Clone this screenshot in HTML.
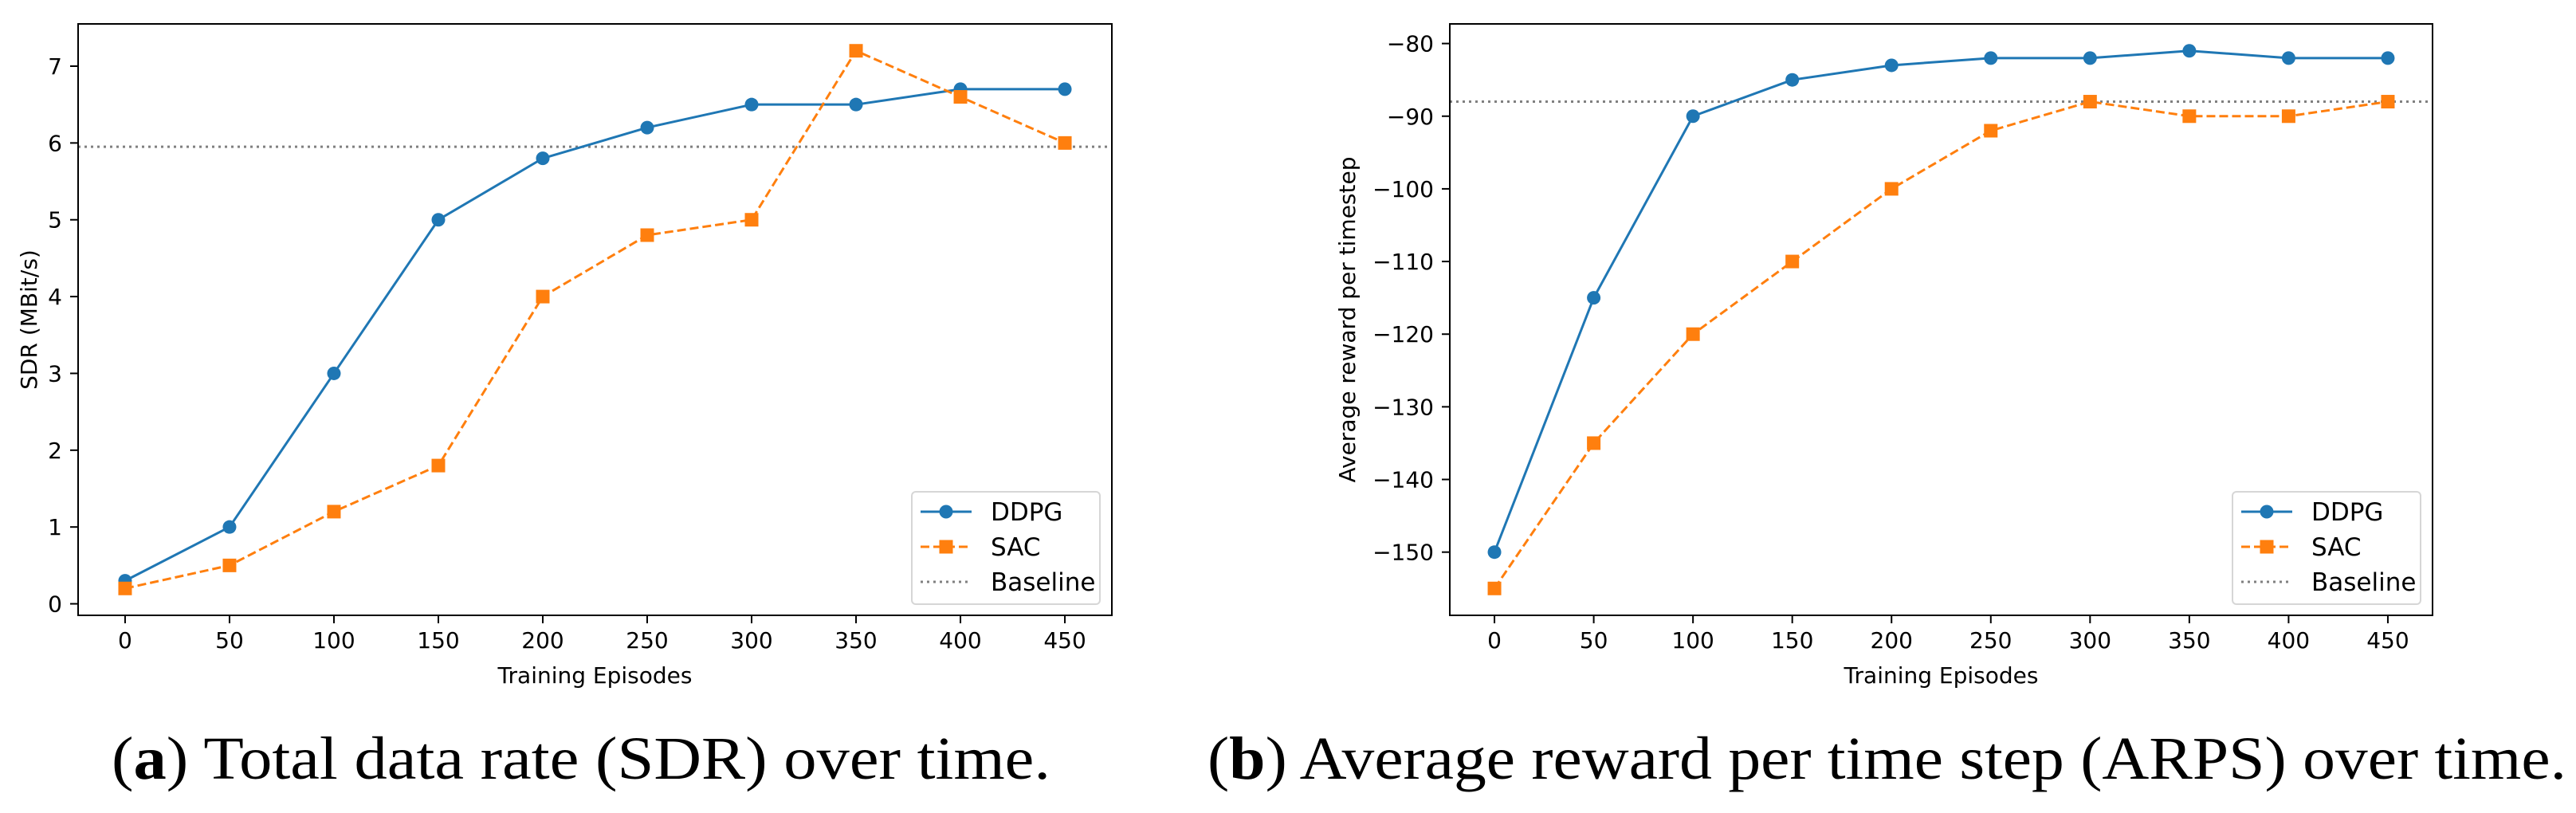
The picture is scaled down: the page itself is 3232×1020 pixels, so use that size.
<!DOCTYPE html>
<html><head><meta charset="utf-8"><style>
html,body{margin:0;padding:0;background:#fff;}
svg{display:block;font-family:"DejaVu Sans","Liberation Sans",sans-serif;}
</style></head><body>
<svg id="fig" width="3232" height="1020" viewBox="0 0 3232 1020" xmlns="http://www.w3.org/2000/svg">
<text x="140" y="977" font-family="'Liberation Serif',serif" font-size="76" textLength="1178" lengthAdjust="spacingAndGlyphs">(<tspan font-weight="bold">a</tspan>) Total data rate (SDR) over time.</text>
<text x="1515" y="977" font-family="'Liberation Serif',serif" font-size="76" textLength="1705" lengthAdjust="spacingAndGlyphs">(<tspan font-weight="bold">b</tspan>) Average reward per time step (ARPS) over time.</text>
</svg>
<script>
const episodes = [0,50,100,150,200,250,300,350,400,450];
const xTicks = [0,50,100,150,200,250,300,350,400,450];
const sdrDDPG = [0.3,1,3,5,5.8,6.2,6.5,6.5,6.7,6.7];
const sdrSAC = [0.2,0.5,1.2,1.8,4,4.8,5,7.2,6.6,6];
const sdrBaseline = 5.95;
const sdrTicks = [0,1,2,3,4,5,6,7];
const arpsDDPG = [-150,-115,-90,-85,-83,-82,-82,-81,-82,-82];
const arpsSAC = [-155,-135,-120,-110,-100,-92,-88,-90,-90,-88];
const arpsBaseline = -88;
const arpsTicks = [-150,-140,-130,-120,-110,-100,-90,-80];

const NS='http://www.w3.org/2000/svg';
const svg=document.getElementById('fig');
function mk(tag,attrs,parent){const e=document.createElementNS(NS,tag);for(const k in attrs)e.setAttribute(k,attrs[k]);(parent||svg).appendChild(e);return e;}

function chart(o){
  const g=mk('g',{});
  
  
  const all=o.s1.concat(o.s2);
  let ymin=Math.min(...all),ymax=Math.max(...all);const yr=ymax-ymin;ymin-=yr*0.05;ymax+=yr*0.05;
  const xmin=-22.5,xmax=472.5;
  const X=v=>o.L+(v-xmin)/(xmax-xmin)*(o.R-o.L);
  const Y=v=>o.B-(v-ymin)/(ymax-ymin)*(o.B-o.T);
  // baseline
  const bl=mk('line',{x1:o.L,x2:o.R,y1:Y(o.base),y2:Y(o.base),stroke:'#808080','stroke-width':3,'stroke-dasharray':'3 5'},g);
  
  
  // series
  function series(vals,color,dash,marker,nm){
    const pts=vals.map((v,i)=>X(episodes[i])+','+Y(v)).join(' ');
    const pl=mk('polyline',{points:pts,fill:'none',stroke:color,'stroke-width':3,'stroke-dasharray':dash||'none','stroke-linejoin':'round'},g);
    
    
    vals.forEach((v,i)=>{
      let m;
      if(marker==='c') m=mk('circle',{cx:X(episodes[i]),cy:Y(v),r:8.5,fill:color},g);
      else m=mk('rect',{x:X(episodes[i])-8.5,y:Y(v)-8.5,width:17,height:17,fill:color},g);
      
      
    });
  }
  series(o.s1,'#1f77b4',null,'c','ddpg');
  series(o.s2,'#ff7f0e','11 5','s','sac');
  // frame
  const fr=mk('rect',{x:o.L,y:o.T,width:o.R-o.L,height:o.B-o.T,fill:'none',stroke:'#000','stroke-width':2},g);
  
  
  xTicks.forEach(t=>{
    mk('line',{x1:X(t),x2:X(t),y1:o.B,y2:o.B+10,stroke:'#000','stroke-width':2},g);
    const tx=mk('text',{x:X(t),y:813,'font-size':28,'text-anchor':'middle'},g);
    tx.textContent=t;
    
    
  });
  o.yt.forEach(t=>{
    mk('line',{x1:o.L-10,x2:o.L,y1:Y(t),y2:Y(t),stroke:'#000','stroke-width':2},g);
    const tx=mk('text',{x:o.L-20,y:Y(t)+10,'font-size':28,'text-anchor':'end'},g);
    tx.textContent=String(t).replace('-','\u2212');
    
    
  });
  const xl=mk('text',{x:(o.L+o.R)/2,y:857,'font-size':28,'text-anchor':'middle'},g);
  xl.textContent='Training Episodes';
  
  
  const yl=mk('text',{x:0,y:0,'font-size':28,'text-anchor':'middle',transform:`translate(${o.ylx},${(o.T+o.B)/2}) rotate(-90)`},g);
  yl.textContent=o.ylab;
  
  
  // legend
  const lx=o.R-251,ly=617;
  const lg=mk('g',{},g);
  
  
  mk('rect',{x:lx,y:ly,width:236,height:141,rx:5,fill:'#fff','fill-opacity':0.8,stroke:'#d6d6d6','stroke-width':2},lg);
  const items=[['DDPG','#1f77b4','none','c'],['SAC','#ff7f0e','11 5','s'],['Baseline','#808080','3 5','']];
  items.forEach((it,i)=>{
    const yy=ly+25+i*44;
    const e=mk('g',{},lg);
    
    
    mk('line',{x1:lx+11,x2:lx+75,y1:yy,y2:yy,stroke:it[1],'stroke-width':3,'stroke-dasharray':it[2]},e);
    if(it[3]==='c') mk('circle',{cx:lx+43,cy:yy,r:8.5,fill:it[1]},e);
    if(it[3]==='s') mk('rect',{x:lx+34.5,y:yy-8.5,width:17,height:17,fill:it[1]},e);
    const t=mk('text',{x:lx+99,y:yy+11,'font-size':31},e);
    t.textContent=it[0];
  });
}
chart({name:'sdr-chart',L:98,R:1395,T:30,B:772,s1:sdrDDPG,s2:sdrSAC,base:sdrBaseline,yt:sdrTicks,ylab:'SDR (MBit/s)',ylx:46});
chart({name:'arps-chart',L:1819,R:3052,T:30,B:772,s1:arpsDDPG,s2:arpsSAC,base:arpsBaseline,yt:arpsTicks,ylab:'Average reward per timestep',ylx:1700});
</script>
</body></html>
